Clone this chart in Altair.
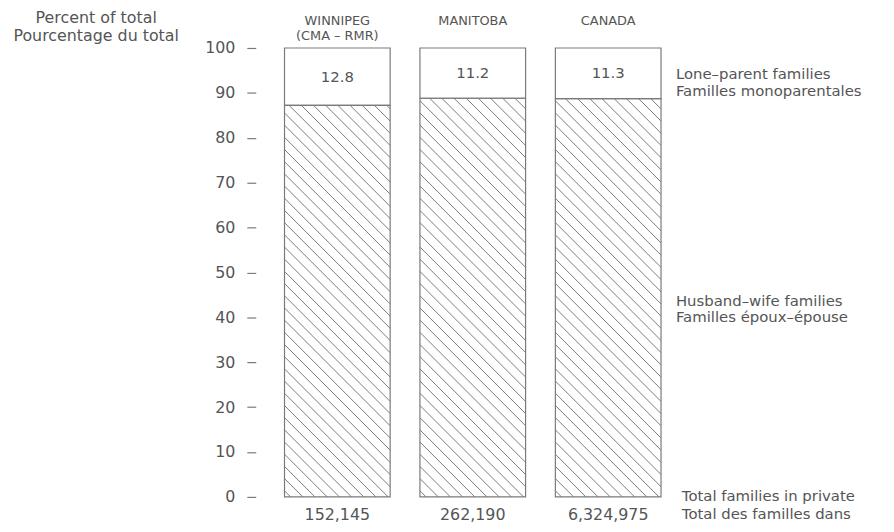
import altair as alt
import pandas as pd

# ---- data ----
regions = ["WINNIPEG", "MANITOBA", "CANADA"]
subtitles = ["(CMA – RMR)", "", ""]
lone_parent = [12.8, 11.2, 11.3]
husband_wife = [87.2, 88.8, 88.7]
totals = ["152,145", "262,190", "6,324,975"]
y_ticks = [0, 10, 20, 30, 40, 50, 60, 70, 80, 90, 100]

# ---- layout constants ----
PLOT_W, PLOT_H = 410, 453
X_DOMAIN = [-0.5, 2.5]
HALF = 0.39
TEXT = "#555555"
LINE = "#7a7a7a"
FONT = "DejaVu Sans"

px_x = PLOT_W / (X_DOMAIN[1] - X_DOMAIN[0])
px_y = PLOT_H / 100.0

bars = pd.DataFrame({
    "region": regions,
    "sub": subtitles,
    "idx": list(range(len(regions))),
    "hw": husband_wife,
    "lp": lone_parent,
    "total": totals,
})
bars["x0"] = bars["idx"] - HALF
bars["x1"] = bars["idx"] + HALF
bars["zero"] = 0.0
bars["top"] = bars["hw"] + bars["lp"]
bars["mid"] = bars["hw"] + bars["lp"] / 2
bars["lp_txt"] = bars["lp"].map(lambda v: f"{v:.1f}")

# hatch segments derived from the husband-wife values (45 degrees on screen)
step = 12.3
rows = []
for _, r in bars.iterrows():
    w = (r["x1"] - r["x0"]) * px_x
    h = r["hw"] * px_y
    k = step / 2
    while k < w + h:
        ua, ub = max(0.0, k - h), min(w, k)
        rows.append({
            "xa": r["x0"] + ua / px_x, "ya": (k - ua) / px_y,
            "xb": r["x0"] + ub / px_x, "yb": (k - ub) / px_y,
        })
        k += step
hatch = pd.DataFrame(rows)

xs = alt.Scale(domain=X_DOMAIN, nice=False, zero=False)
ys = alt.Scale(domain=[0, 100], nice=False, zero=False)

hatch_layer = alt.Chart(hatch).mark_rule(color=LINE, strokeWidth=1).encode(
    x=alt.X("xa:Q", scale=xs, axis=None),
    x2="xb:Q",
    y=alt.Y("ya:Q", scale=ys, axis=alt.Axis(
        values=y_ticks, orient="left", offset=14, tickSize=9, tickColor=LINE,
        tickWidth=1.2, labelPadding=12, labelFontSize=16, labelColor=TEXT,
        labelFont=FONT, domain=False, grid=False, title=None)),
    y2="yb:Q",
)

base = alt.Chart(bars)

hw_rect = base.mark_rect(fill=None, stroke=LINE, strokeWidth=1.2).encode(
    x=alt.X("x0:Q", scale=xs), x2="x1:Q",
    y=alt.Y("zero:Q", scale=ys), y2="hw:Q",
)
lp_rect = base.mark_rect(fill=None, stroke=LINE, strokeWidth=1.2).encode(
    x=alt.X("x0:Q", scale=xs), x2="x1:Q",
    y=alt.Y("hw:Q", scale=ys), y2="top:Q",
)

lp_text = base.mark_text(fontSize=15, color=TEXT, font=FONT, baseline="middle").encode(
    x=alt.X("idx:Q", scale=xs), y=alt.Y("mid:Q", scale=ys), text="lp_txt:N",
)
head1 = base.mark_text(fontSize=13, color=TEXT, font=FONT, baseline="middle").encode(
    x=alt.X("idx:Q", scale=xs), y=alt.value(-27), text="region:N",
)
head2 = base.mark_text(fontSize=13, color=TEXT, font=FONT, baseline="middle").encode(
    x=alt.X("idx:Q", scale=xs), y=alt.value(-12), text="sub:N",
)
tot_text = base.mark_text(fontSize=16, color=TEXT, font=FONT, baseline="middle").encode(
    x=alt.X("idx:Q", scale=xs), y=alt.value(471), text="total:N",
)

annot = pd.DataFrame({
    "label": ["Percent of total", "Pourcentage du total"],
    "py": [-30, -12],
})
title_layer = alt.Chart(annot).mark_text(
    fontSize=16, color=TEXT, font=FONT, align="center", baseline="middle"
).encode(x=alt.value(-175), y=alt.Y("py:Q", scale=None), text="label:N")

side = pd.DataFrame({
    "label": ["Lone–parent families", "Familles monoparentales",
              "Husband–wife families", "Familles époux–épouse"],
    "py": [26, 43, 255, 272],
})
side_layer = alt.Chart(side).mark_text(
    fontSize=15, color=TEXT, font=FONT, align="left", baseline="middle"
).encode(x=alt.value(410), y=alt.Y("py:Q", scale=None), text="label:N")

foot = pd.DataFrame({
    "label": ["Total families in private", "Total des familles dans"],
    "py": [457, 475],
})
foot_layer = alt.Chart(foot).mark_text(
    fontSize=15, color=TEXT, font=FONT, align="left", baseline="alphabetic"
).encode(x=alt.value(416), y=alt.Y("py:Q", scale=None), text="label:N")

chart = alt.layer(
    hatch_layer, hw_rect, lp_rect, lp_text, head1, head2, tot_text,
    title_layer, side_layer, foot_layer,
).resolve_scale(x="shared", y="shared").properties(
    width=PLOT_W, height=PLOT_H,
    autosize=alt.AutoSizeParams(type="none"),
    padding={"left": 264, "top": 38, "right": 212, "bottom": 24},
    background="white",
).configure_view(stroke=None)

chart.save("out.html", embed_options={"renderer": "svg", "actions": False})
